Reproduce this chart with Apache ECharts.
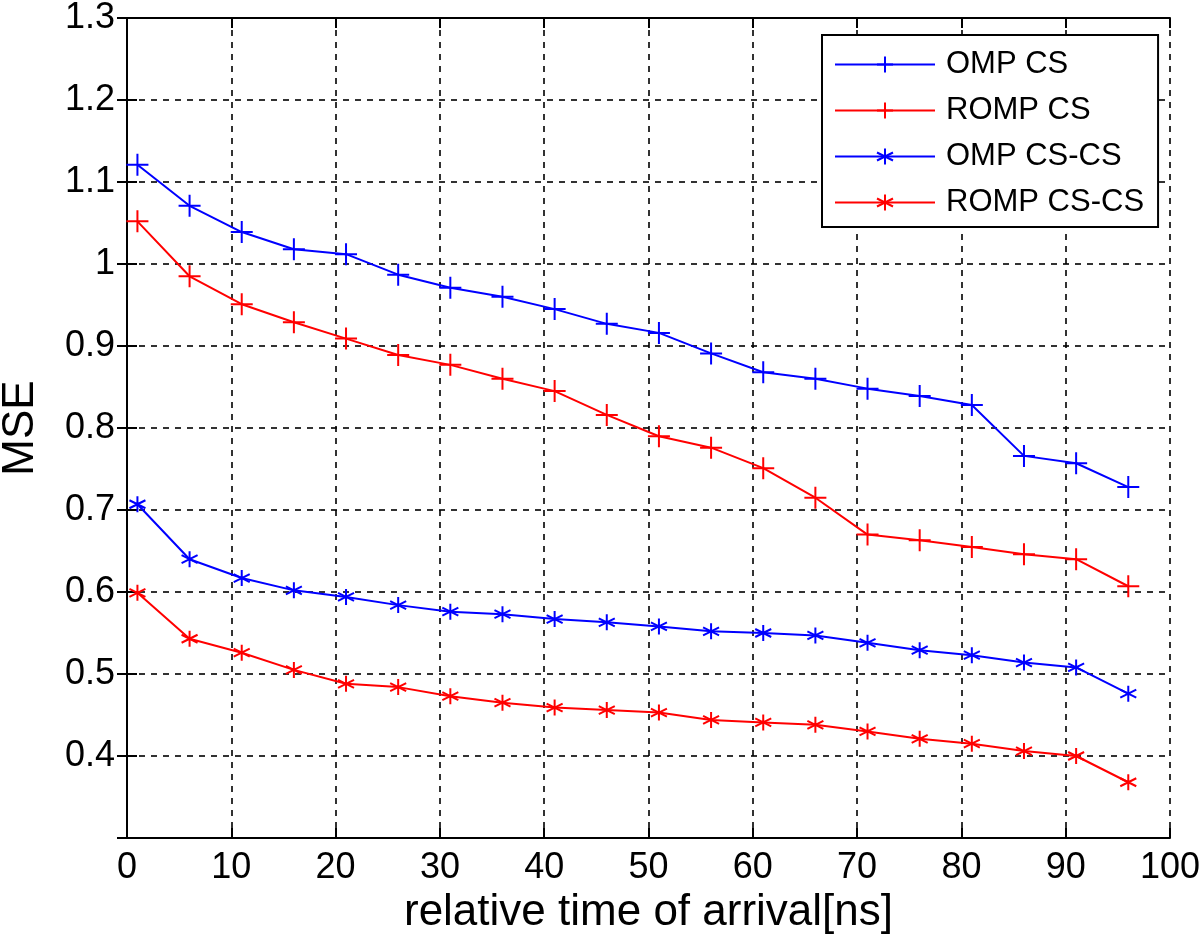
<!DOCTYPE html>
<html>
<head>
<meta charset="utf-8">
<script src="https://cdn.jsdelivr.net/npm/echarts@6/dist/echarts.min.js"></script>
<style>html,body{margin:0;padding:0;background:#fff;}#c{width:1200px;height:943px;}</style>
</head>
<body>
<div id="c"></div>
<script>
const xValues = [1, 6, 11, 16, 21, 26, 31, 36, 41, 46, 51, 56, 61, 66, 71, 76, 81, 86, 91, 96];
const ompCS = [1.121, 1.071, 1.039, 1.018, 1.012, 0.987, 0.971, 0.960, 0.945, 0.927, 0.916, 0.891, 0.868, 0.860, 0.848, 0.839, 0.828, 0.766, 0.757, 0.728];
const rompCS = [1.052, 0.985, 0.951, 0.929, 0.909, 0.889, 0.877, 0.860, 0.845, 0.816, 0.790, 0.776, 0.751, 0.715, 0.670, 0.663, 0.655, 0.646, 0.640, 0.607];
const ompCSCS = [0.707, 0.640, 0.617, 0.602, 0.594, 0.584, 0.576, 0.573, 0.567, 0.563, 0.558, 0.552, 0.550, 0.547, 0.538, 0.529, 0.523, 0.514, 0.508, 0.476];
const rompCSCS = [0.599, 0.543, 0.526, 0.505, 0.488, 0.484, 0.473, 0.465, 0.459, 0.456, 0.453, 0.444, 0.441, 0.438, 0.430, 0.421, 0.415, 0.406, 0.400, 0.368];
const seriesNames = ['OMP CS', 'ROMP CS', 'OMP CS-CS', 'ROMP CS-CS'];
const xTitle = 'relative time of arrival[ns]';
const yTitle = 'MSE';

const PLUS = 'path://M0,-1L0,1M-1,0L1,0';
const STAR = 'path://M0,-1L0,1M-0.87,-0.5L0.87,0.5M-0.87,0.5L0.87,-0.5';
const FONT = '"Liberation Sans", Arial, Helvetica, sans-serif';

function pair(ys) { return xValues.map((x, i) => [x, ys[i]]); }
function mk(name, ys, color, symbol, size) {
  return {
    name: name, type: 'line', data: pair(ys), xAxisIndex: 0, yAxisIndex: 0,
    symbol: symbol, symbolSize: size, showAllSymbol: true,
    lineStyle: { color: color, width: 2 },
    itemStyle: { color: 'rgba(0,0,0,0)', borderColor: color, borderWidth: 2 },
    emphasis: { disabled: true }, animation: false
  };
}

const chart = echarts.init(document.getElementById('c'));
const axisLineStyle = { show: true, lineStyle: { color: '#000', width: 2 } };
const tickInside = { show: true, inside: true, length: 10, lineStyle: { color: '#000', width: 2 } };
const gridLine = { show: true, lineStyle: { color: '#000', width: 1.6, type: [6, 6] } };

chart.setOption({
  backgroundColor: '#fff',
  animation: false,
  grid: { left: 127, right: 30, top: 18, bottom: 105, containLabel: false, outerBoundsMode: 'none' },
  legend: {
    data: seriesNames,
    left: 822, top: 35, orient: 'vertical',
    padding: [14, 14, 9, 12],
    itemWidth: 100, itemHeight: 20, itemGap: 15,
    backgroundColor: '#fff', borderColor: '#000', borderWidth: 2,
    textStyle: { fontFamily: FONT, fontSize: 31, color: '#000', padding: [0, 0, 0, 6] }
  },
  xAxis: [
    {
      type: 'value', min: 0, max: 100, interval: 10, position: 'bottom',
      axisLine: axisLineStyle, axisTick: tickInside, splitLine: gridLine,
      axisLabel: { fontFamily: FONT, fontSize: 36, color: '#000', margin: 12 },
      name: xTitle, nameLocation: 'middle', nameGap: 50,
      nameTextStyle: { fontFamily: FONT, fontSize: 44, color: '#000' }
    },
    {
      type: 'value', min: 0, max: 100, interval: 10, position: 'top',
      axisLine: axisLineStyle, axisTick: tickInside, splitLine: { show: false },
      axisLabel: { show: false }
    }
  ],
  yAxis: [
    {
      type: 'value', min: 0.3, max: 1.3, interval: 0.1, position: 'left',
      axisLine: axisLineStyle, axisTick: tickInside, splitLine: gridLine,
      axisLabel: {
        fontFamily: FONT, fontSize: 36, color: '#000', margin: 12,
        formatter: function (v) { return v < 0.35 ? '' : String(+v.toFixed(1)); }
      },
      name: yTitle, nameLocation: 'middle', nameGap: 84,
      nameTextStyle: { fontFamily: FONT, fontSize: 44, color: '#000' }
    },
    {
      type: 'value', min: 0.3, max: 1.3, interval: 0.1, position: 'right',
      axisLine: axisLineStyle, axisTick: tickInside, splitLine: { show: false },
      axisLabel: { show: false }
    }
  ],
  series: [
    mk(seriesNames[0], ompCS, '#0000ff', PLUS, 22),
    mk(seriesNames[1], rompCS, '#ff0000', PLUS, 22),
    mk(seriesNames[2], ompCSCS, '#0000ff', STAR, 16),
    mk(seriesNames[3], rompCSCS, '#ff0000', STAR, 16)
  ]
});
</script>
</body>
</html>
